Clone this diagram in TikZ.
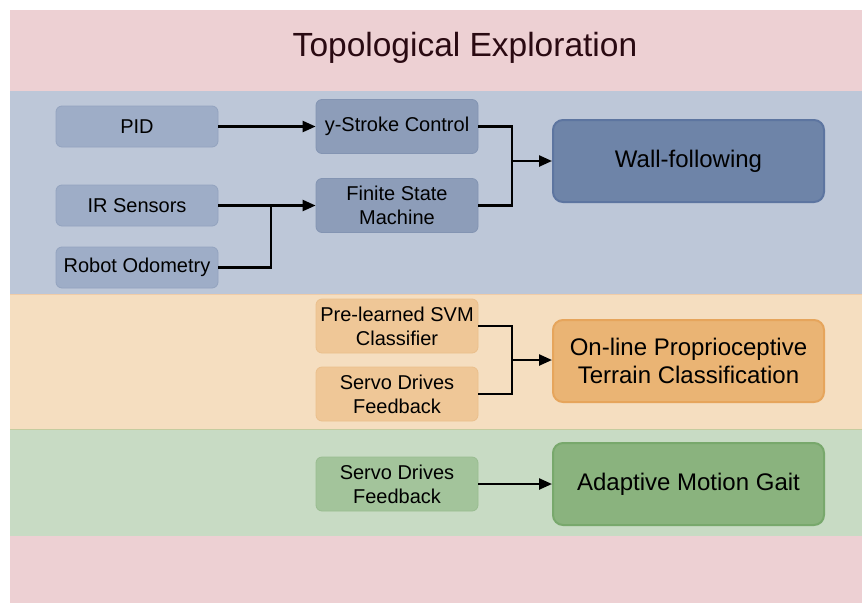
\documentclass[tikz,border=0pt]{standalone}
\usepackage{fontspec}
\setmainfont{Liberation Sans}
\usetikzlibrary{arrows.meta}
\definecolor{bgpink}{HTML}{EDD0D3}
\definecolor{bandblue}{HTML}{BDC7D8}
\definecolor{bandorange}{HTML}{F5DEC0}
\definecolor{bandgreen}{HTML}{C8DBC4}
\definecolor{blueA}{HTML}{9EADC7}
\definecolor{blueAb}{HTML}{93A3BF}
\definecolor{blueB}{HTML}{8D9DB9}
\definecolor{blueBb}{HTML}{8394B2}
\definecolor{blueBig}{HTML}{6E84A8}
\definecolor{blueBigb}{HTML}{5D75A0}
\definecolor{orA}{HTML}{EFC797}
\definecolor{orAb}{HTML}{EABF8C}
\definecolor{orBig}{HTML}{EAB474}
\definecolor{orBigb}{HTML}{E6A55C}
\definecolor{grA}{HTML}{A3C49B}
\definecolor{grAb}{HTML}{99BC90}
\definecolor{grBig}{HTML}{8AB37E}
\definecolor{grBigb}{HTML}{78A86C}
\definecolor{titlecol}{HTML}{2A0A12}
\tikzset{
  smallbox/.style={rounded corners=6pt, minimum width=162pt, align=center,
    inner sep=0pt, font=\fontsize{20}{24}\selectfont, line width=0.8pt},
  bigbox/.style={rounded corners=10pt, minimum width=271pt, minimum height=82pt,
    align=center, inner sep=0pt, font=\fontsize{24}{28}\selectfont, line width=2pt},
  conn/.style={line width=2.4pt, black},
  arr/.style={conn, -{Triangle[length=13pt,width=11pt]}}
}
\begin{document}
\begin{tikzpicture}[x=1pt,y=-1pt]
\useasboundingbox (0,0) rectangle (862,603);
% background and bands
\fill[bgpink] (10,10) rectangle (862,603);
\fill[bandblue] (10,91) rectangle (862,294);
\fill[bandorange] (10,294) rectangle (862,429);
\fill[bandgreen] (10,429) rectangle (862,536);
\draw[color=orange!40!brown!40, line width=0.8pt] (10,294) -- (862,294);
\draw[color=bandgreen!60!olive!70, line width=0.8pt] (10,429) -- (862,429);
\node[font=\fontsize{33.5}{38}\selectfont, text=titlecol] (title) at (465,48) {Topological Exploration};
% blue band
\node[smallbox, fill=blueA, draw=blueAb, minimum height=41pt] (pid) at (137,126.5) {PID};
\node[smallbox, fill=blueA, draw=blueAb, minimum height=41pt] (ir) at (137,205.5) {IR Sensors};
\node[smallbox, fill=blueA, draw=blueAb, minimum height=41pt] (odo) at (137,267.5) {Robot Odometry};
\node[smallbox, fill=blueB, draw=blueBb, minimum height=54pt] (ys) at (397,126.5) {y-Stroke Control};
\node[smallbox, fill=blueB, draw=blueBb, minimum height=54pt] (fsm) at (397,205.5) {Finite State\\Machine};
\node[bigbox, fill=blueBig, draw=blueBigb] (wall) at (688.5,161) {Wall-following};
% orange band
\node[smallbox, fill=orA, draw=orAb, minimum height=54pt] (svm) at (397,326) {Pre-learned SVM\\Classifier};
\node[smallbox, fill=orA, draw=orAb, minimum height=54pt] (sdo) at (397,394) {Servo Drives\\Feedback};
\node[bigbox, fill=orBig, draw=orBigb] (terr) at (688.5,361) {On-line Proprioceptive\\Terrain Classification};
% green band
\node[smallbox, fill=grA, draw=grAb, minimum height=54pt] (sdg) at (397,484) {Servo Drives\\Feedback};
\node[bigbox, fill=grBig, draw=grBigb] (gait) at (688.5,484) {Adaptive Motion Gait};
% connectors
\coordinate (j1) at (271,205.5);
\coordinate (j2) at (512,161);
\coordinate (j3) at (512,360);
\draw[arr] (pid.east) -- (ys.west);
\draw[arr] (ir.east) -- (fsm.west);
\draw[conn] (odo.east) -| (j1);
\draw[conn] (ys.east) -| (j2);
\draw[conn] (fsm.east) -| (j2);
\draw[arr] (j2) -- (wall.west);
\draw[conn] (svm.east) -| (j3);
\draw[conn] (sdo.east) -| (j3);
\draw[arr] (j3) -- (terr.west |- j3);
\draw[arr] (sdg.east) -- (gait.west);
\end{tikzpicture}
\end{document}
